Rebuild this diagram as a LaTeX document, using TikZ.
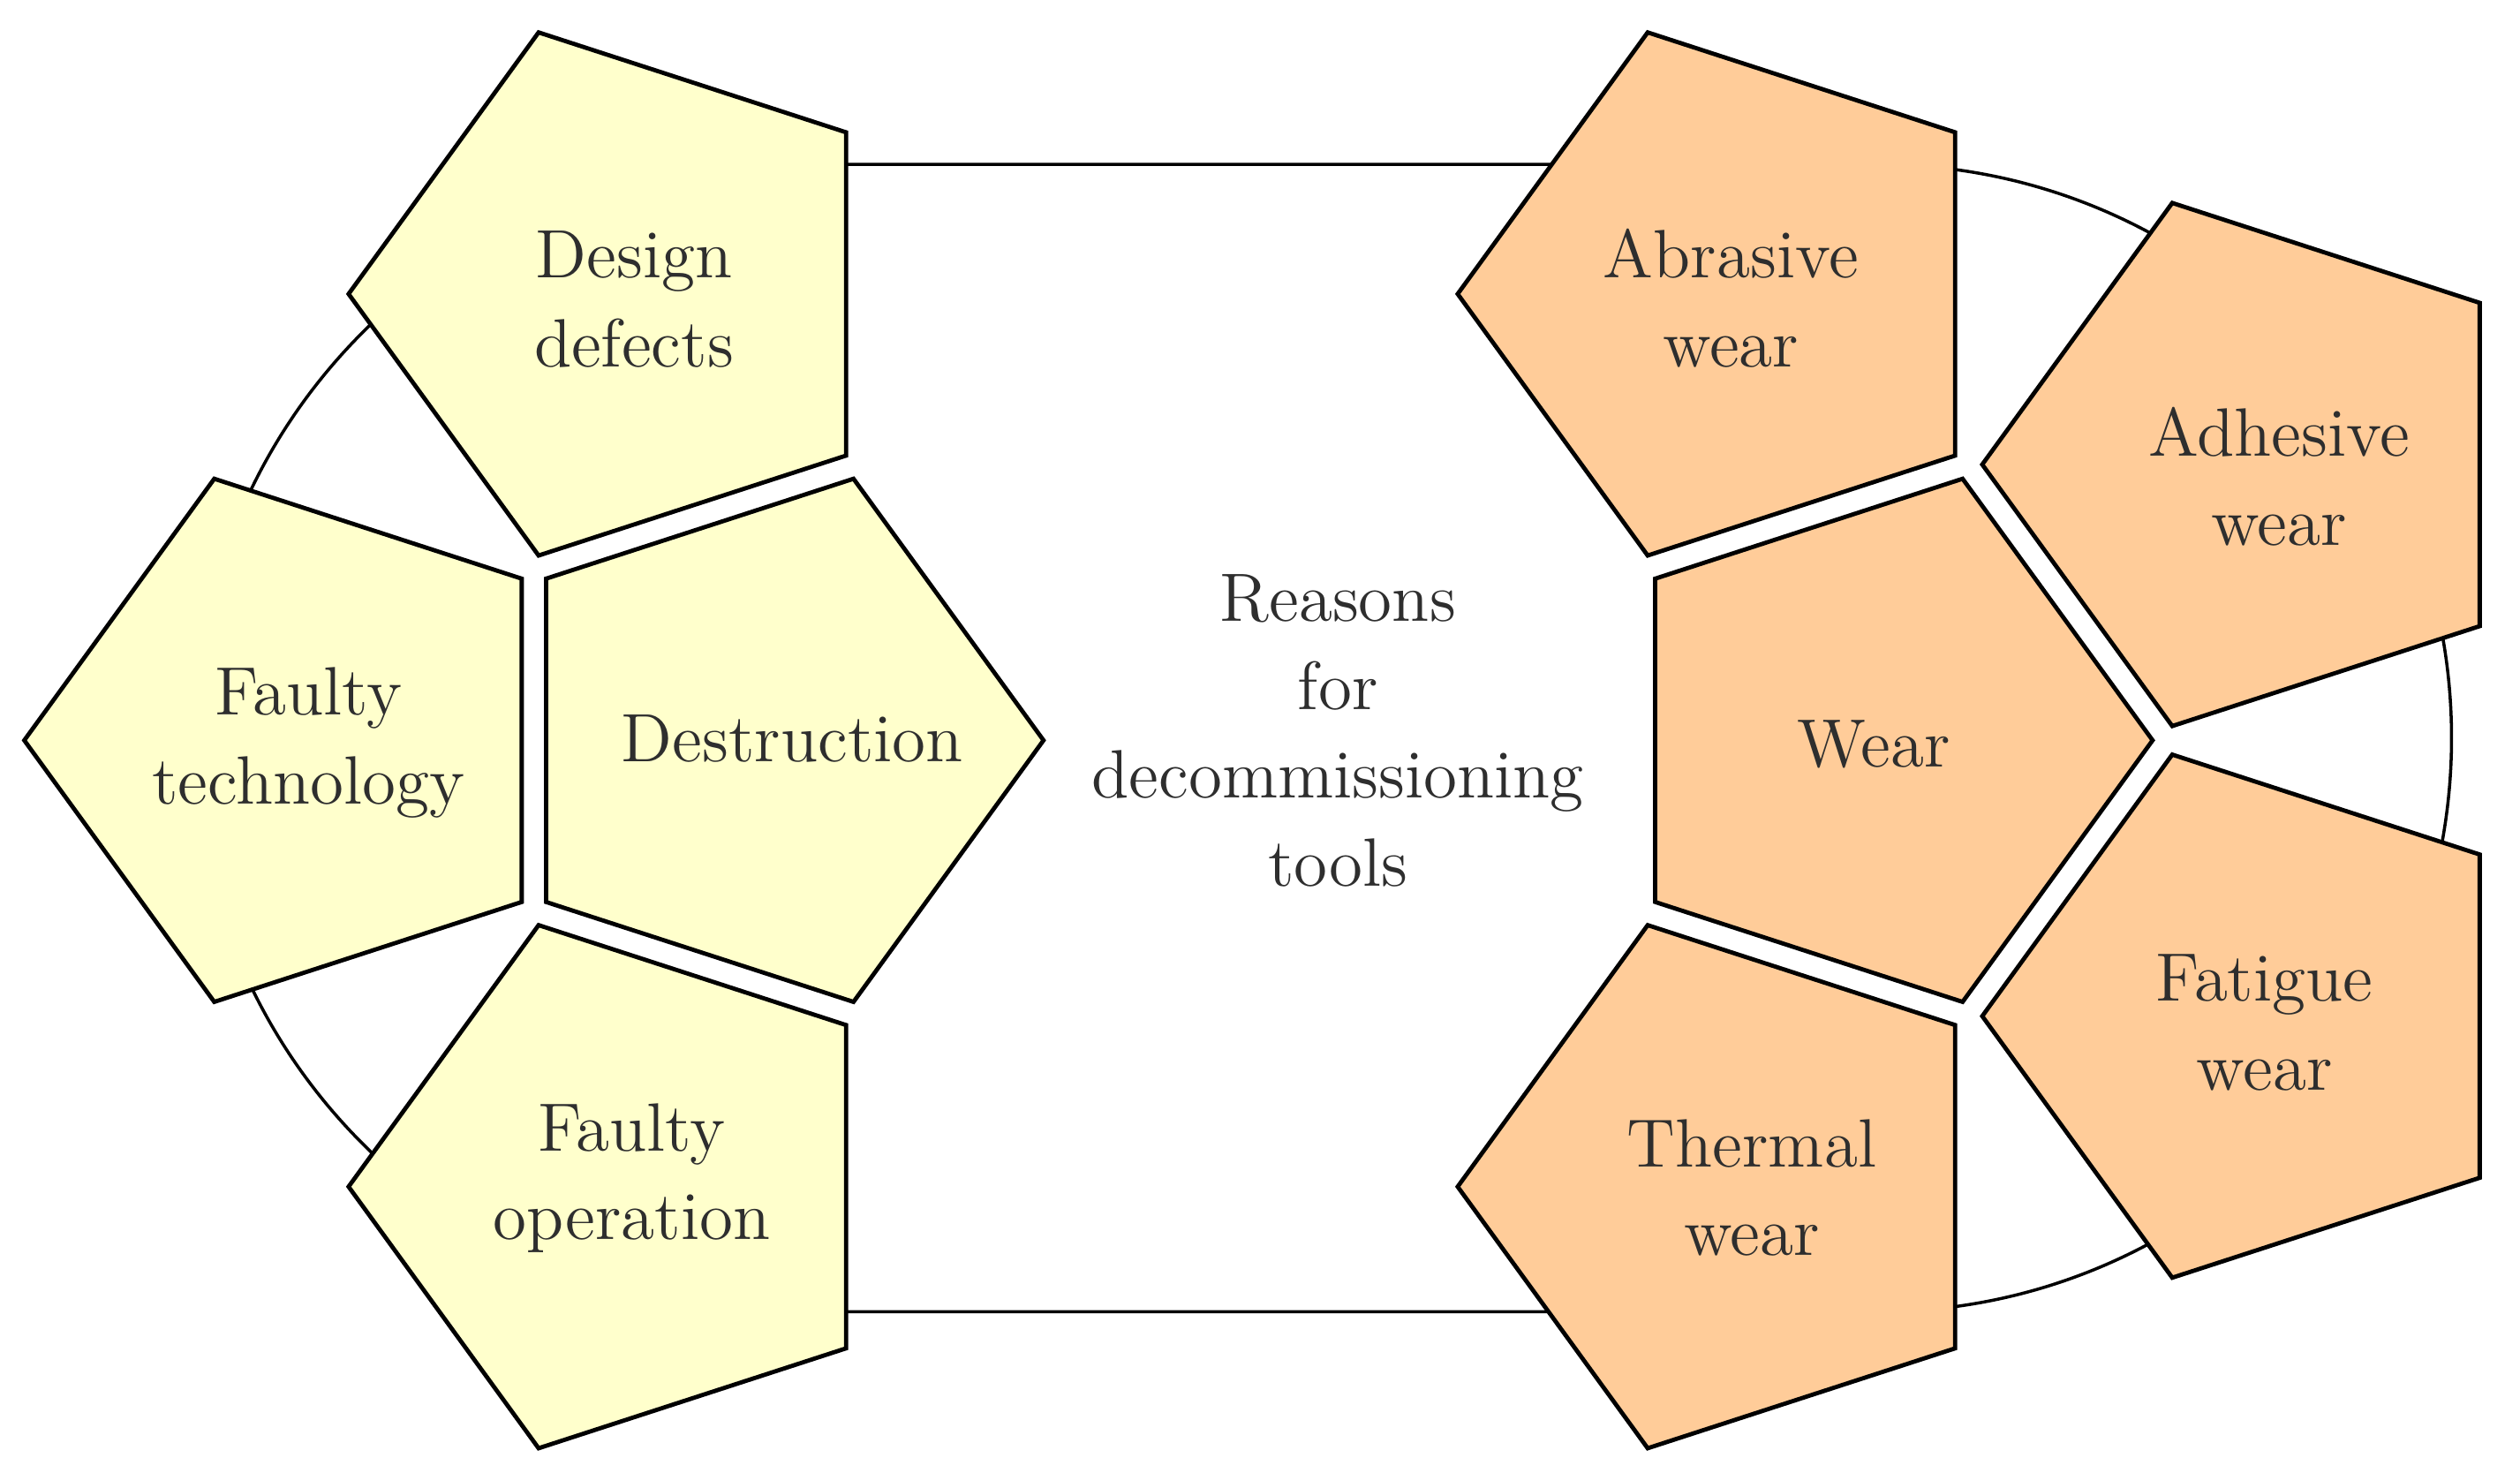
\documentclass[tikz,border=0pt]{standalone}
\usetikzlibrary{shapes.geometric,shapes.misc}
\definecolor{yel}{HTML}{FFFFCC}
\definecolor{org}{HTML}{FFCC99}
\definecolor{txt}{HTML}{2E2E2E}
\begin{document}
\begin{tikzpicture}[x=0.01cm,y=-0.01cm,
  pent/.style={regular polygon, regular polygon sides=5, minimum size=3.42cm,
    inner sep=0pt, outer sep=0pt, draw=black, line width=0.75pt},
  lpent/.style={pent, shape border rotate=90},
  rpent/.style={pent, shape border rotate=-90},
  lbl/.style={text=txt, font=\fontsize{12.1}{15.65}\selectfont, anchor=base, inner sep=0pt},
  ring/.style={rounded rectangle, draw=black, line width=0.55pt, inner sep=0pt,
    minimum width=14.035cm, minimum height=7.134cm}]
\useasboundingbox (0,0) rectangle (1568,915.9);
% background stadium
\node[ring] (ring) at (823.25,459.2) {};
% left group
\node[rpent, fill=yel] (de) at (478.2,460.6) {};
\node[lpent, fill=yel] (dd) at (388.0,182.9) {};
\node[lpent, fill=yel] (ft) at (186.2,460.6) {};
\node[lpent, fill=yel] (fo) at (388.0,738.3) {};
% right group
\node[rpent, fill=org] (we) at (1168.3,460.6) {};
\node[lpent, fill=org] (ab) at (1078.1,182.9) {};
\node[lpent, fill=org] (th) at (1078.1,738.3) {};
\node[lpent, fill=org] (ad) at (1404.5,289.0) {};
\node[lpent, fill=org] (fa) at (1404.5,632.2) {};
% labels
\node[lbl] (dd-t) at (394.5,173) {\begin{tabular}[t]{@{}c@{}}Design\\defects\end{tabular}};
\node[lbl] (ft-t) at (192,445) {\begin{tabular}[t]{@{}c@{}}Faulty\\technology\end{tabular}};
\node[lbl] (de-t) at (493,474) {Destruction};
\node[lbl] (fo-t) at (393,716) {\begin{tabular}[t]{@{}c@{}}Faulty\\operation\end{tabular}};
\node[lbl] (ab-t) at (1077,173) {\begin{tabular}[t]{@{}c@{}}Abrasive\\wear\end{tabular}};
\node[lbl] (ad-t) at (1418,284) {\begin{tabular}[t]{@{}c@{}}Adhesive\\wear\end{tabular}};
\node[lbl] (we-t) at (1166,477) {Wear};
\node[lbl] (fa-t) at (1409,623) {\begin{tabular}[t]{@{}c@{}}Fatigue\\wear\end{tabular}};
\node[lbl] (th-t) at (1090,726) {\begin{tabular}[t]{@{}c@{}}Thermal\\wear\end{tabular}};
\node[lbl] (ctr) at (832.5,386.5) {\begin{tabular}[t]{@{}c@{}}Reasons\\for\\decommissioning\\tools\end{tabular}};
\end{tikzpicture}
\end{document}
